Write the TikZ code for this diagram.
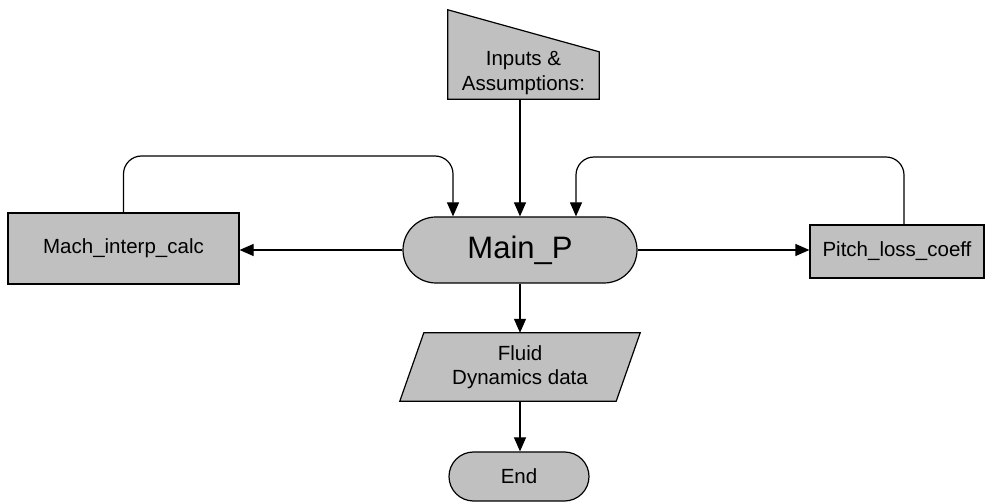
\documentclass[tikz,border=0pt]{standalone}
\usepackage{fontspec}
\setmainfont{Liberation Sans}
\usetikzlibrary{arrows.meta,shapes.misc}
\definecolor{boxgray}{HTML}{C0C0C0}
\begin{document}
\begin{tikzpicture}[x=1pt,y=-1pt,
  shapebox/.style={draw=black, fill=boxgray, line width=1.2pt},
  conn/.style={draw=black, line width=1.2pt, -{Triangle[length=14pt,width=12pt]}},
  loopconn/.style={conn, rounded corners=18pt},
  lbl/.style={font=\fontsize{20.5}{24.5}\selectfont, align=center, inner sep=0pt},
]
\useasboundingbox (0,0) rectangle (986,502);

% Inputs (manual input)
\node[minimum width=151, minimum height=89, inner sep=0pt] (inputs) at (523.5,54.5) {};
\draw[shapebox] (inputs.north west) -- ([yshift=-42pt]inputs.north east) -- (inputs.south east) -- (inputs.south west) -- cycle;
\node[lbl] (inputslbl) at (523.5,73) {Inputs \&\\Assumptions:};

% Main
\node[shapebox, rounded rectangle, minimum width=234, minimum height=66, inner sep=0pt,
      font=\fontsize{31}{36}\selectfont] (main) at (520,250) {Main\_P};

% Side boxes
\node[shapebox, rectangle, minimum width=231, minimum height=71, lbl] (mach) at (123.5,248.5) {Mach\_interp\_calc};
\node[shapebox, rectangle, minimum width=174, minimum height=53, lbl] (pitch) at (897,251.5) {Pitch\_loss\_coeff};

% Data (parallelogram)
\node[minimum width=216, minimum height=68, inner sep=0pt] (data) at (520,367) {};
\draw[shapebox] ([xshift=12pt]data.north west) -- ([xshift=12pt]data.north east) -- ([xshift=-12pt]data.south east) -- ([xshift=-12pt]data.south west) -- cycle;
\node[lbl] (datalbl) at (520,367) {Fluid\\Dynamics data};

% End
\node[shapebox, rounded rectangle, minimum width=140, minimum height=49, inner sep=0pt, lbl] (end) at (519,476.5) {End};

% Connectors
\draw[conn] (inputs.south -| main.north) -- (main.north);
\draw[conn] (main.west) -- (main.west -| mach.east);
\draw[conn] (main.east) -- (main.east -| pitch.west);
\draw[conn] (main.south) -- (data.north);
\draw[conn] (data.south) -- (data.south |- end.north);

\coordinate (lt) at (453,156);
\coordinate (rt) at (576,157);
\draw[loopconn] (mach.north) |- (lt) -- (lt |- main.north);
\draw[loopconn] ([xshift=7pt]pitch.north) |- (rt) -- (rt |- main.north);
\end{tikzpicture}
\end{document}
